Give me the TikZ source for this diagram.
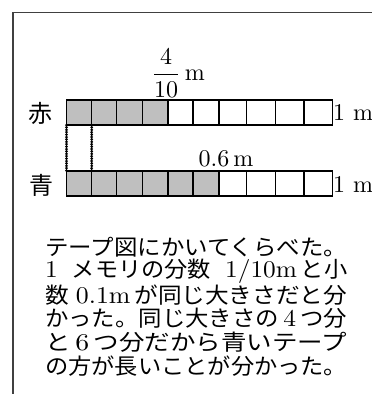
\documentclass[tikz,border=0pt]{standalone}
\usepackage{fontspec}
\usepackage{graphicx}
\newfontfamily\jfont{Noto Sans CJK JP}
\newcommand\figlat[1]{\scalebox{2.4}{\fontsize{10}{12}\selectfont #1}}
\newcommand\txtlat[1]{\scalebox{2.4}{\fontsize{10}{12}\selectfont #1}}
\newcommand\txtsize{\fontsize{22}{26}\selectfont}
\newcommand\labsize{\fontsize{24}{28}\selectfont}
\newcommand\fitline[1]{\resizebox{302pt}{\height}{#1}}
\begin{document}
\begin{tikzpicture}[x=1pt,y=-1pt,
  lbl/.style={inner sep=0pt},
  txtline/.style={inner sep=0pt,anchor=west,font=\txtsize},
  cellline/.style={line width=1.4pt,black},
  dotline/.style={line width=3pt,dash pattern=on 0pt off 2.4pt,line cap=round}]
\useasboundingbox (0,0) rectangle (372,394);
% frame
\draw[line width=1.4pt,black!75] (372,12.5) -- (13,12.5) -- (13,394);
% tapes
\fill[black!25] (66.5,100) rectangle (168,125);
\fill[black!25] (66.5,171) rectangle (219,196);
\foreach \y in {100,171}{
  \draw[cellline] (66.5,\y) rectangle (332.7,\y+25);
  \foreach \x in {91.7,116.7,142.7,168,193,219,246.7,275.5,304}
    \draw[cellline] (\x,\y) -- (\x,\y+25);
}
\coordinate (a1) at (66.5,125); \coordinate (b1) at (66.5,171);
\coordinate (a2) at (91.7,125); \coordinate (b2) at (91.7,171);
\draw[dotline] (a1) -- (b1);
\draw[dotline] (a2) -- (b2);
% labels
\node[lbl] (aka) at (40,113) {\jfont\labsize 赤};
\node[lbl] (ao) at (41,185) {\jfont\labsize 青};
\node[lbl,anchor=west] (m1) at (333,113) {\figlat{1 m}};
\node[lbl,anchor=west] (m2) at (333,185) {\figlat{1 m}};
\node[lbl] (frac) at (178,73) {\figlat{$\displaystyle\frac{4}{10}$\,m}};
\node[lbl] (dec) at (226,159) {\figlat{0.6\,m}};
% text
\node[txtline] (l1) at (45,247) {\fitline{\jfont テープ図にかいてくらべた。}};
\node[txtline] (l2) at (45,271) {\fitline{\txtlat{1}\ \ {\jfont メモリの分数}\ \ \txtlat{1/10m}\,{\jfont と小}}};
\node[txtline] (l3) at (45,295) {\fitline{{\jfont 数}\ \txtlat{0.1m}\,{\jfont が同じ大きさだと分}}};
\node[txtline] (l4) at (45,318) {\fitline{{\jfont かった。同じ大きさの}\txtlat{\,4\,}{\jfont つ分}}};
\node[txtline] (l5) at (45,342) {\fitline{{\jfont と}\txtlat{\,6\,}{\jfont つ分だから青いテープ}}};
\node[txtline] (l6) at (45,366) {\fitline{\jfont の方が長いことが分かった。}};
\end{tikzpicture}
\end{document}
